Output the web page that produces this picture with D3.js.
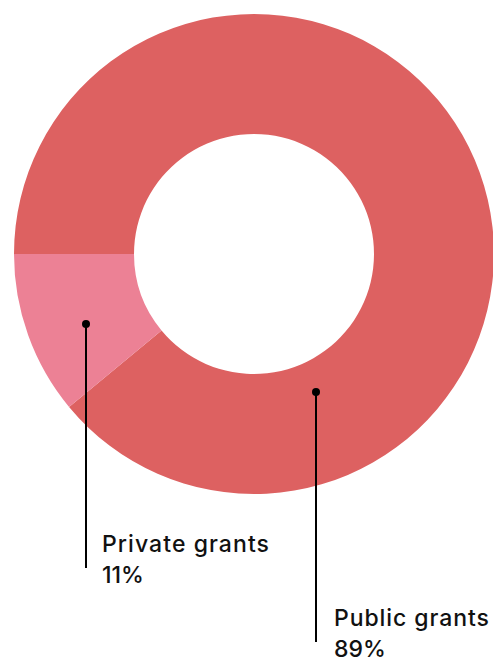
<!DOCTYPE html>
<html>
<head>
<meta charset="utf-8">
<script src="https://cdn.jsdelivr.net/npm/d3@7"></script>
<style>
  html, body { margin: 0; padding: 0; background: #ffffff; }
  svg { display: block; }
</style>
</head>
<body>
<svg id="chart" width="493" height="662"></svg>
<script>
// Funding sources, share of total (%)
const categories = ["Public grants", "Private grants"];
const shares = [89, 11];
const colors = ["#DD6161", "#EC8195"];

const width = 493, height = 662;
const cx = 254, cy = 254;
const outerR = 240, innerR = 120;

const svg = d3.select("#chart");

// Ring starts at 9 o'clock and runs clockwise
const pie = d3.pie()
  .value(d => d.value)
  .sort(null)
  .startAngle(-Math.PI / 2)
  .endAngle(-Math.PI / 2 + 2 * Math.PI);

const data = categories.map((c, i) => ({ name: c, value: shares[i], color: colors[i] }));
const arcs = pie(data);

const arc = d3.arc().innerRadius(innerR).outerRadius(outerR);

const g = svg.append("g").attr("transform", `translate(${cx},${cy})`);

g.selectAll("path.slice")
  .data(arcs)
  .join("path")
  .attr("class", "slice")
  .attr("d", arc)
  .attr("fill", d => d.data.color);

// Callout layout: dot on the slice, vertical leader, two-line label
const callouts = {
  "Public grants":  { dot: [316, 392], lineEnd: 642, labelX: 334, labelY: 626, nameWidth: 155 },
  "Private grants": { dot: [86, 324],  lineEnd: 568, labelX: 102, labelY: 552, nameWidth: 167 }
};

arcs.forEach(a => {
  const co = callouts[a.data.name];
  const [ax, ay] = co.dot;
  svg.append("line")
    .attr("x1", ax).attr("y1", ay)
    .attr("x2", ax).attr("y2", co.lineEnd)
    .attr("stroke", "#000").attr("stroke-width", 2);
  svg.append("circle")
    .attr("cx", ax).attr("cy", ay).attr("r", 4)
    .attr("fill", "#000");

  const t = svg.append("text")
    .attr("x", co.labelX).attr("y", co.labelY)
    .attr("font-family", "Inter, 'Open Sans', sans-serif")
    .attr("font-size", 23)
    .attr("font-weight", 500)
    .attr("fill", "#111");
  t.append("tspan").attr("x", co.labelX)
    .attr("textLength", co.nameWidth).attr("lengthAdjust", "spacing")
    .text(a.data.name);
  t.append("tspan").attr("x", co.labelX).attr("dy", 31).text(a.data.value + "%");
});
</script>
</body>
</html>
